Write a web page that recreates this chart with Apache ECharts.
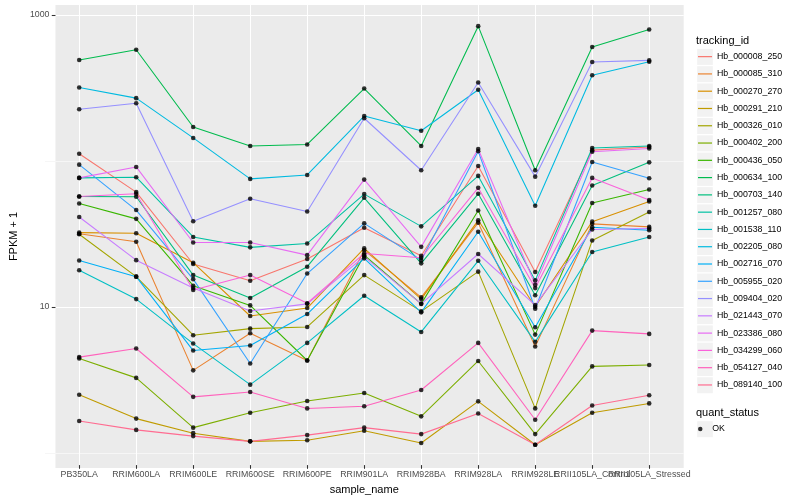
<!DOCTYPE html>
<html><head><meta charset="utf-8">
<script src="https://cdn.jsdelivr.net/npm/echarts@6/dist/echarts.min.js"></script>
<style>html,body{margin:0;padding:0;background:#fff}#c{width:800px;height:500px}</style>
</head><body><div id="c"></div>
<script>
const categories = ['PB350LA','RRIM600LA','RRIM600LE','RRIM600SE','RRIM600PE','RRIM901LA','RRIM928BA','RRIM928LA','RRIM928LE','RRII105LA_Control','RRII105LA_Stressed'];
const trackingIds = ['Hb_000008_250','Hb_000085_310','Hb_000270_270','Hb_000291_210','Hb_000326_010','Hb_000402_200','Hb_000436_050','Hb_000634_100','Hb_000703_140','Hb_001257_080','Hb_001538_110','Hb_002205_080','Hb_002716_070','Hb_005955_020','Hb_009404_020','Hb_021443_070','Hb_023386_080','Hb_034299_060','Hb_054127_040','Hb_089140_100'];
const colors = ['#F8766D','#EA8331','#D89000','#C09B00','#A3A500','#7CAE00','#39B600','#00BB4E','#00BF7D','#00C1A3','#00BFC4','#00BAE0','#00B0F6','#35A2FF','#9590FF','#C77CFF','#E76BF3','#FA62DB','#FF62BC','#FF6C91'];

const hb000008_250 = [110.5, 60.1, 19.2, 14.7, 20.8, 34.1, 21.9, 91.0, 16.9, 117, 123];
const hb000085_310 = [31.0, 27.3, 3.55, 6.40, 4.15, 23.9, 11.3, 37.0, 5.18, 36.3, 34.6];
const hb000270_270 = [31.6, 31.3, 19.6, 8.41, 9.54, 24.6, 11.0, 38.4, 9.74, 37.6, 51.8];
const hb000291_210 = [2.41, 1.65, 1.31, 1.15, 1.17, 1.36, 1.12, 2.17, 1.09, 1.81, 2.10];
const hb000326_010 = [30.8, 15.7, 6.20, 6.88, 7.07, 16.1, 9.05, 17.0, 1.94, 27.9, 43.8];
const hb000402_200 = [4.29, 3.15, 1.43, 1.81, 2.18, 2.48, 1.71, 4.12, 1.29, 3.78, 3.86];
const hb000436_050 = [50.2, 39.3, 13.6, 9.95, 4.15, 22.1, 10.2, 44.9, 6.26, 50.5, 62.6];
const hb000634_100 = [489, 576, 169, 125, 128, 311, 125, 837, 85.0, 601, 793];
const hb000703_140 = [56.1, 55.8, 16.1, 11.2, 18.4, 54.9, 19.4, 58.5, 11.7, 66.7, 96.4];
const hb001257_080 = [75.3, 76.1, 29.5, 25.0, 26.6, 58.2, 34.9, 77.7, 14.8, 121, 125];
const hb001538_110 = [17.4, 11.0, 5.43, 2.83, 5.49, 11.6, 6.53, 20.2, 5.58, 23.2, 29.5];
const hb002205_080 = [316, 267, 142, 74.1, 78.9, 201, 159, 305, 48.4, 384, 476];
const hb002716_070 = [20.3, 15.7, 4.86, 5.26, 8.68, 21.0, 8.91, 32.0, 7.03, 34.4, 32.8];
const hb005955_020 = [92.9, 45.2, 15.1, 3.96, 16.5, 36.6, 20.4, 115, 9.43, 96.9, 74.9];
const hb009404_020 = [224, 246, 37.8, 54.1, 44.2, 194, 85.0, 342, 76.8, 474, 486];
const hb021443_070 = [40.5, 20.4, 13.1, 9.10, 10.2, 21.6, 10.2, 22.5, 10.0, 33.2, 33.7];
const hb023386_080 = [75.3, 89.6, 27.0, 27.0, 22.1, 73.3, 25.2, 119, 13.8, 114, 120];
const hb034299_060 = [56.1, 58.5, 12.7, 16.1, 10.3, 22.7, 21.2, 64.3, 13.1, 75.3, 53.0];
const hb054127_040 = [4.38, 5.02, 2.33, 2.52, 1.94, 2.01, 2.60, 5.49, 1.62, 6.67, 6.33];
const hb089140_100 = [1.59, 1.38, 1.25, 1.15, 1.27, 1.43, 1.29, 1.79, 1.09, 2.03, 2.39];

const seriesValues = [hb000008_250, hb000085_310, hb000270_270, hb000291_210, hb000326_010, hb000402_200, hb000436_050, hb000634_100, hb000703_140, hb001257_080, hb001538_110, hb002205_080, hb002716_070, hb005955_020, hb009404_020, hb021443_070, hb023386_080, hb034299_060, hb054127_040, hb089140_100];

const majorBreaks = [10, 1000];
const gridBreaks = [1, 10, 100, 1000];   // minor, major, minor, major (decades)
const yMin = 0.789, yMax = 1171;
const FONT = "'Liberation Sans', Arial, Helvetica, sans-serif";

// panel geometry (layout only)
const PANEL_TOP = 5, PANEL_BOTTOM = 32, PANEL_H = 500 - PANEL_TOP - PANEL_BOTTOM;
const pxPerDecade = PANEL_H / (Math.log10(yMax) - Math.log10(yMin));
const breakGridTop = PANEL_TOP + (Math.log10(yMax) - Math.log10(gridBreaks[gridBreaks.length - 1])) * pxPerDecade;
const breakGridBottom = PANEL_BOTTOM + (Math.log10(gridBreaks[0]) - Math.log10(yMin)) * pxPerDecade;

const chart = echarts.init(document.getElementById('c'), null, {renderer: 'canvas'});

const lineSeries = trackingIds.map((id, i) => ({
  name: id, type: 'line', xAxisIndex: 0, yAxisIndex: 0,
  data: seriesValues[i], symbol: 'none', color: colors[i],
  lineStyle: {color: colors[i], width: 1.07}, z: 3, silent: true, animation: false
}));

const pointData = [];
seriesValues.forEach(vals => vals.forEach((v, j) => pointData.push([categories[j], v])));

const keyBoxes = [];
for (let i = 0; i < trackingIds.length; i++) {
  keyBoxes.push({type: 'rect', shape: {x: 697.2, y: 48.9 + i * 17.28, width: 15.6, height: 16}, style: {fill: '#F2F2F2'}, z: 0, silent: true});
}
keyBoxes.push({type: 'rect', shape: {x: 697.2, y: 421.2, width: 15.6, height: 16}, style: {fill: '#F2F2F2'}, z: 0, silent: true});
keyBoxes.push({type: 'text', x: 696, y: 40.7, style: {text: 'tracking_id', fontSize: 11, fill: '#000', fontFamily: FONT, verticalAlign: 'middle', align: 'left'}, z: 0});
keyBoxes.push({type: 'text', x: 696, y: 412.7, style: {text: 'quant_status', fontSize: 11, fill: '#000', fontFamily: FONT, verticalAlign: 'middle', align: 'left'}, z: 0});

const option = {
  backgroundColor: '#ffffff',
  animation: false,
  textStyle: {fontFamily: FONT},
  grid: [
    {left: 50.7, right: 122.3, top: PANEL_TOP, bottom: PANEL_BOTTOM, containLabel: false},
    {left: 45, right: 116.3, top: PANEL_TOP, bottom: PANEL_BOTTOM, show: true, backgroundColor: '#EBEBEB', borderWidth: 0, containLabel: false, z: -1},
    {left: 45, right: 116.3, top: breakGridTop, bottom: breakGridBottom, containLabel: false}
  ],
  xAxis: [
    {type: 'category', gridIndex: 0, data: categories, boundaryGap: true, z: 2,
     axisLine: {show: false, onZero: false},
     axisTick: {show: true, alignWithLabel: true, length: 3.7, lineStyle: {color: '#333333', width: 1.07}},
     axisLabel: {interval: 0, fontSize: 8.8, color: '#4D4D4D', margin: 5, fontFamily: FONT, hideOverlap: false},
     splitLine: {show: true, alignWithLabel: true, interval: 0, lineStyle: {color: '#FFFFFF', width: 1.07, type: 'solid'}},
     name: 'sample_name', nameLocation: 'middle', nameGap: 15,
     nameTextStyle: {fontSize: 11, color: '#000', fontFamily: FONT}},
    {type: 'value', gridIndex: 1, min: 0, max: 1, show: false},
    {type: 'value', gridIndex: 2, min: 0, max: 1, show: false}
  ],
  yAxis: [
    {type: 'log', logBase: 10, gridIndex: 0, min: yMin, max: yMax, show: false},
    {type: 'log', logBase: 10, gridIndex: 1, min: yMin, max: yMax, z: 2,
     axisLine: {show: false},
     axisTick: {show: true, customValues: majorBreaks, length: 3.7, lineStyle: {color: '#333333', width: 1.07}},
     axisLabel: {customValues: majorBreaks, fontSize: 8.8, color: '#4D4D4D', margin: 6, fontFamily: FONT,
       formatter: v => (majorBreaks.indexOf(Math.round(v)) >= 0 ? String(Math.round(v)) : '')},
     splitLine: {show: false},
     name: 'FPKM + 1', nameLocation: 'middle', nameGap: 27,
     nameTextStyle: {fontSize: 11, color: '#000', fontFamily: FONT}},
    {type: 'category', gridIndex: 2, data: gridBreaks.map(String), boundaryGap: false, z: 2,
     axisLine: {show: false, onZero: false}, axisTick: {show: false}, axisLabel: {show: false},
     splitLine: {show: true, interval: 0, lineStyle: {color: ['#F6F6F6', '#FFFFFF'], width: 1.07, type: 'solid'}}}
  ],
  legend: [
    {orient: 'vertical', left: 698, top: 48, padding: 0, itemWidth: 14, itemHeight: 1.2, itemGap: 0,
     icon: 'rect', selectedMode: false, data: trackingIds,
     textStyle: {fontSize: 8.8, color: '#000', lineHeight: 17.28, fontFamily: FONT}},
    {orient: 'vertical', left: 698, top: 420.4, padding: 0, itemWidth: 14, itemHeight: 4.5, itemGap: 0,
     selectedMode: false, data: [{name: 'OK', icon: 'circle'}],
     textStyle: {fontSize: 8.8, color: '#000', lineHeight: 17.28, fontFamily: FONT}}
  ],
  graphic: keyBoxes,
  series: lineSeries.concat([
    {name: 'OK', type: 'scatter', xAxisIndex: 0, yAxisIndex: 0, data: pointData, symbol: 'circle', symbolSize: 4.6,
     itemStyle: {color: '#000000'}, z: 5, silent: true}
  ])
};
chart.setOption(option);
</script>
</body></html>
